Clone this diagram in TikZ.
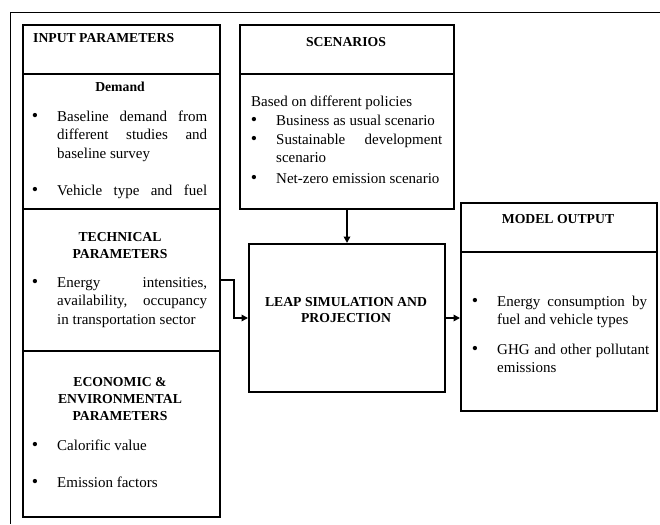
\documentclass[tikz,border=0pt]{standalone}
\usepackage{fontspec}
\setmainfont{Liberation Serif}
\usetikzlibrary{arrows.meta}
\hyphenpenalty=10000
\exhyphenpenalty=10000
\tolerance=9999
\emergencystretch=10pt
\tikzset{
  kasten/.style={draw, line width=2pt, inner sep=0pt, anchor=north west},
  kopf/.style={font=\fontsize{13.7}{16.8}\selectfont\bfseries, align=center, inner sep=0pt},
  fliess/.style={font=\fontsize{15}{18.3}\selectfont, align=justify, anchor=base west, inner sep=0pt},
  punkt/.style={font=\fontsize{18}{18}\selectfont, inner sep=0pt},
  pfeil/.style={-{Triangle[length=6.5pt,width=6.5pt]}, line width=1.7pt}
}
\begin{document}
\begin{tikzpicture}[x=1pt,y=-1pt]
        \useasboundingbox (0,0) rectangle (660,524);
        % Rahmen
        \draw [line width=0.8pt] (660,12) -- (10,12) -- (10,524);
        % Kaesten
        \node[kasten, minimum width=197pt, minimum height=49pt] (eingabe) at (22,24) {};
        \node[kasten, minimum width=197pt, minimum height=135pt] (nachfrage) at (22,73) {};
        \node[kasten, minimum width=197pt, minimum height=142pt] (technik) at (22,208) {};
        \node[kasten, minimum width=197pt, minimum height=166pt] (oekonomie) at (22,350) {};
        \node[kasten, minimum width=214pt, minimum height=49pt] (szenkopf) at (239,24) {};
        \node[kasten, minimum width=214pt, minimum height=135pt] (szenarien) at (239,73) {};
        \node[kasten, minimum width=196pt, minimum height=148pt] (leap) at (248,243) {};
        \node[kasten, minimum width=196pt, minimum height=49pt] (ausgkopf) at (460,202) {};
        \node[kasten, minimum width=196pt, minimum height=159pt] (ausgabe) at (460,251) {};
        % Ueberschriften
        \node[kopf, anchor=west] (eingabetext) at (33,38) {INPUT PARAMETERS};
        \node[kopf] (nachfragetext) at (120,87) {Demand};
        \node[kopf] (techniktext) at (120,245.5) {TECHNICAL\\PARAMETERS};
        \node[kopf] (oekonomietext) at (120,399) {ECONOMIC \&\\ENVIRONMENTAL\\PARAMETERS};
        \node[kopf] (szenkopftext) at (346,42) {SCENARIOS};
        \node[kopf] (leaptext) at (346,310) {LEAP SIMULATION AND\\PROJECTION};
        \node[kopf] (ausgkopftext) at (558,219) {MODEL OUTPUT};
        % Eingabe
        \node[punkt] (p1) at (35,117) {\textbullet};
        \node[fliess, text width=150pt] (t1) at (57,121.5) {Baseline demand from different studies and baseline survey};
        \node[punkt] (p2) at (35,191) {\textbullet};
        \node[fliess] (t2) at (57,195.5) {\makebox[150pt][s]{Vehicle type and fuel}};
        \node[punkt] (p3) at (35,283) {\textbullet};
        \node[fliess, text width=150pt] (t3) at (57,287.5) {Energy intensities, availability, occupancy in transportation sector};
        \node[punkt] (p4) at (35,446) {\textbullet};
        \node[fliess] (t4) at (57,450.5) {Calorific value};
        \node[punkt] (p5) at (35,483) {\textbullet};
        \node[fliess] (t5) at (57,487.5) {Emission factors};
        % Szenarien
        \node[fliess] (t6) at (251,106.5) {Based on different policies};
        \node[punkt] (p6) at (254,121) {\textbullet};
        \node[fliess] (t7) at (276,125.5) {Business as usual scenario};
        \node[punkt] (p7) at (254,140) {\textbullet};
        \node[fliess, text width=166pt] (t8) at (276,144.5) {Sustainable development scenario};
        \node[punkt] (p8) at (254,179) {\textbullet};
        \node[fliess] (t9) at (276,183.5) {Net-zero emission scenario};
        % Ausgabe
        \node[punkt] (p9) at (475,302) {\textbullet};
        \node[fliess, text width=150pt] (t10) at (497,306.5) {Energy consumption by fuel and vehicle types};
        \node[punkt] (p10) at (475,350) {\textbullet};
        \node[fliess, text width=152pt] (t11) at (497,354.5) {GHG and other pollutant emissions};
        % Pfeile
        \draw [pfeil] (szenarien.south) -- (leap.north);
        \draw [pfeil] (technik.east) -- ++(13,0) |- (leap.west);
        \draw [pfeil] (leap.east) -- (leap.east -| ausgabe.west);
    \end{tikzpicture}
\end{document}
